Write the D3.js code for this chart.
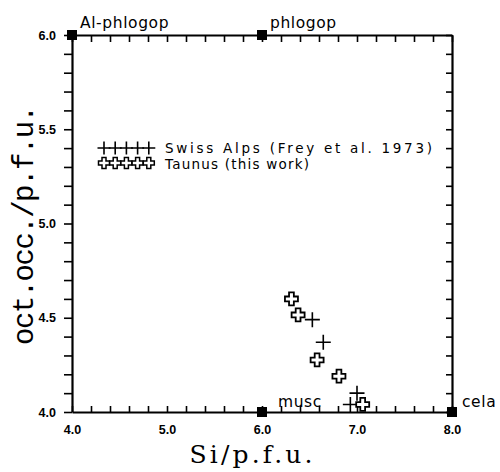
<!DOCTYPE html>
<html>
<head>
<meta charset="utf-8">
<script src="https://cdn.jsdelivr.net/npm/d3@7"></script>
<style>
  html, body { margin: 0; padding: 0; background: #fff; }
  svg { display: block; }
</style>
</head>
<body>
<svg id="chart" width="500" height="472"></svg>
<script>
// ---- data ----
const swissAlpsSi  = [6.53, 6.645, 7.00, 6.93];
const swissAlpsOct = [4.49, 4.37, 4.10, 4.04];
const taunusSi  = [6.31, 6.38, 6.58, 6.81, 7.06];
const taunusOct = [4.60, 4.515, 4.276, 4.19, 4.04];
const endMemberNames = ["Al-phlogop", "phlogop", "musc", "cela"];
const endMemberSi  = [4.0, 6.0, 6.0, 8.0];
const endMemberOct = [6.0, 6.0, 4.0, 4.0];
const xTickLabels = ["4.0", "5.0", "6.0", "7.0", "8.0"];
const yTickLabels = ["4.0", "4.5", "5.0", "5.5", "6.0"];
const legendLabels = ["Swiss Alps (Frey et al. 1973)", "Taunus (this work)"];
const xTitle = "Si/p.f.u.";
const yTitle = "oct.occ./p.f.u.";

// ---- layout ----
const L = 72, R = 452, T = 35, B = 412;
const svg = d3.select("#chart");
const x = d3.scaleLinear().domain([4, 8]).range([L, R]);
const y = d3.scaleLinear().domain([4, 6]).range([B, T]);

const xTicks = d3.range(0, 21).map(i => 4 + i * 0.2);
const yTicks = d3.range(0, 21).map(i => 4 + i * 0.1);
const xLab = v => { const s = v.toFixed(1); return xTickLabels.includes(s) && Math.abs(v - Math.round(v)) < 1e-6 ? s : ""; };
const yLab = v => { const s = v.toFixed(1); return yTickLabels.includes(s) ? s : ""; };

function styleAxis(g) {
  g.select(".domain").attr("stroke", "#000").attr("stroke-width", 2.2);
  g.selectAll(".tick line").attr("stroke", "#000").attr("stroke-width", 1.6);
  g.selectAll(".tick text")
    .attr("fill", "#000")
    .attr("font-family", "Liberation Sans, Arial, sans-serif")
    .attr("font-weight", "bold")
    .attr("font-size", 12.5);
}

// bottom axis: ticks inward
svg.append("g").attr("transform", `translate(0,${B})`)
  .call(d3.axisBottom(x).tickValues(xTicks).tickFormat(xLab).tickSize(-6).tickSizeOuter(0).tickPadding(13))
  .call(styleAxis);
// top axis: ticks inward
svg.append("g").attr("transform", `translate(0,${T})`)
  .call(d3.axisTop(x).tickValues(xTicks).tickFormat("").tickSize(-7).tickSizeOuter(0))
  .call(styleAxis);
// left axis: ticks outward
svg.append("g").attr("transform", `translate(${L},0)`)
  .call(d3.axisLeft(y).tickValues(yTicks).tickFormat(yLab).tickSize(8).tickSizeOuter(0).tickPadding(8))
  .call(styleAxis);
// right axis: ticks inward
svg.append("g").attr("transform", `translate(${R},0)`)
  .call(d3.axisRight(y).tickValues(yTicks).tickFormat("").tickSize(-6).tickSizeOuter(0))
  .call(styleAxis);

// ---- end-member squares ----
const em = endMemberNames.map((n, i) => ({ n, si: endMemberSi[i], oc: endMemberOct[i] }));
svg.append("g").selectAll("rect").data(em).join("rect")
  .attr("x", d => x(d.si) - 5).attr("y", d => y(d.oc) - 5)
  .attr("width", 10).attr("height", 10).attr("fill", "#000");

const labelOffsets = [[8, -7], [8, -7], [16, -5], [10, -5]];
svg.append("g").selectAll("text").data(em).join("text")
  .attr("x", (d, i) => x(d.si) + labelOffsets[i][0])
  .attr("y", (d, i) => y(d.oc) + labelOffsets[i][1])
  .attr("font-family", "DejaVu Sans, sans-serif")
  .attr("font-size", 15.5)
  .attr("letter-spacing", 0.6)
  .attr("fill", "#000")
  .text(d => d.n);

// ---- symbols ----
function plusPath(cx, cy, s) {
  return `M${cx - s},${cy}H${cx + s}M${cx},${cy - s}V${cy + s}`;
}
function openCrossPath(cx, cy, s, w) {
  return `M${cx - w},${cy - s}H${cx + w}V${cy - w}H${cx + s}V${cy + w}H${cx + w}V${cy + s}` +
         `H${cx - w}V${cy + w}H${cx - s}V${cy - w}H${cx - w}Z`;
}

const swiss = swissAlpsSi.map((v, i) => ({ si: v, oc: swissAlpsOct[i] }));
const taunus = taunusSi.map((v, i) => ({ si: v, oc: taunusOct[i] }));

svg.append("g").selectAll("path").data(swiss).join("path")
  .attr("d", d => plusPath(x(d.si), y(d.oc), 7.5))
  .attr("stroke", "#000").attr("stroke-width", 1.6).attr("fill", "none");

svg.append("g").selectAll("path").data(taunus).join("path")
  .attr("d", d => openCrossPath(x(d.si), y(d.oc), 6.5, 2.4))
  .attr("stroke", "#000").attr("stroke-width", 1.8).attr("fill", "#fff");

// ---- legend ----
const leg = svg.append("g");
const legX0 = 104, legStep = 11.2;
d3.range(5).forEach(i => {
  leg.append("path").attr("d", plusPath(legX0 + i * legStep, 148, 6.5))
    .attr("stroke", "#000").attr("stroke-width", 1.6).attr("fill", "none");
});
d3.range(5).forEach(i => {
  leg.append("path").attr("d", openCrossPath(legX0 + i * legStep, 163, 5.5, 2))
    .attr("stroke", "#000").attr("stroke-width", 1.5).attr("fill", "#fff");
});
leg.selectAll("text").data(legendLabels).join("text")
  .attr("x", 165)
  .attr("y", (d, i) => 153 + i * 16)
  .attr("font-family", "DejaVu Sans, sans-serif")
  .attr("font-size", 13.5)
  .attr("fill", "#000")
  .attr("textLength", (d, i) => i === 0 ? 267 : 144)
  .attr("lengthAdjust", "spacing")
  .text(d => d);

// ---- axis titles ----
svg.append("text")
  .attr("x", 251).attr("y", 463)
  .attr("text-anchor", "middle")
  .attr("font-family", "DejaVu Serif, serif")
  .attr("font-size", 25)
  .attr("textLength", 123).attr("lengthAdjust", "spacing")
  .attr("fill", "#000")
  .text(xTitle);

svg.append("text")
  .attr("transform", "translate(33,225) rotate(-90)")
  .attr("text-anchor", "middle")
  .attr("font-family", "Liberation Mono, monospace")
  .attr("font-size", 29)
  .attr("textLength", 240).attr("lengthAdjust", "spacing")
  .attr("fill", "#000")
  .text(yTitle);
</script>
</body>
</html>
